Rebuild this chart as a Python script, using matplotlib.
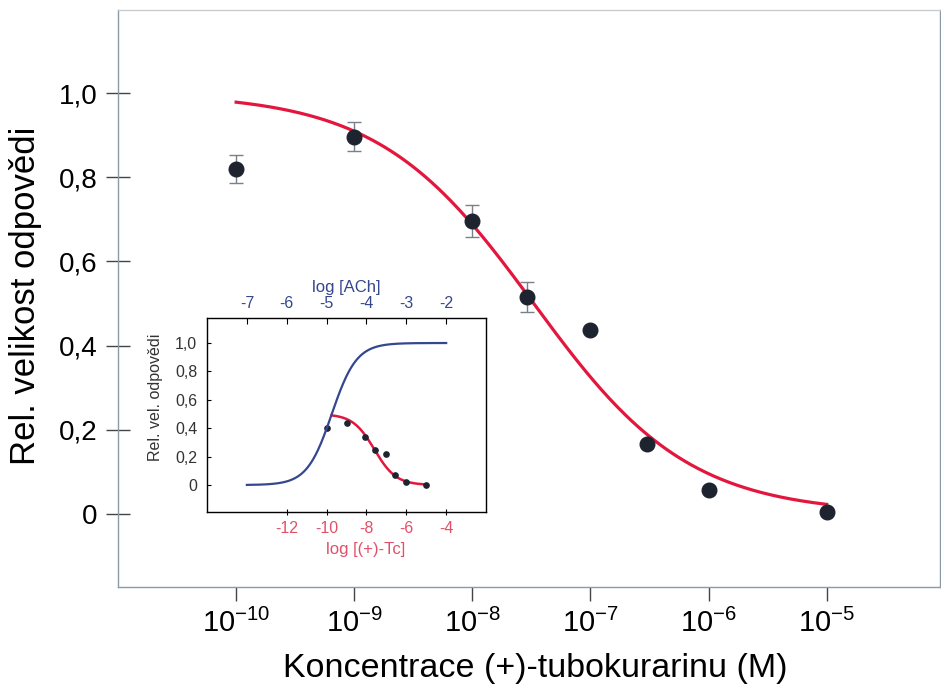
import matplotlib
matplotlib.use("Agg")
import matplotlib.pyplot as plt
import numpy as np

plt.rcParams["font.family"] = ["Liberation Sans", "DejaVu Sans"]
plt.rcParams["mathtext.default"] = "regular"

# ── hlavní graf: (+)-tubokurarin ──
conc = [1e-10, 1e-9, 1e-8, 2.9e-8, 1e-7, 3e-7, 1e-6, 1e-5]
resp = [0.82, 0.897, 0.697, 0.516, 0.437, 0.165, 0.057, 0.005]
err = [0.033, 0.035, 0.038, 0.036, 0, 0, 0, 0]
fit_top, fit_logic50, fit_n = 1.0, -7.48, 0.66      # Hillova křivka (fit)
fit_range = (-10, -5)

xticks = [1e-10, 1e-9, 1e-8, 1e-7, 1e-6, 1e-5]
xticklabels = [r"$10^{-10}$", r"$10^{-9}$", r"$10^{-8}$", r"$10^{-7}$", r"$10^{-6}$", r"$10^{-5}$"]
yticks = [0, 0.2, 0.4, 0.6, 0.8, 1.0]
yticklabels = ["0", "0,2", "0,4", "0,6", "0,8", "1,0"]

# ── vložený graf ──
tc_log = [-10, -9, -8.05, -7.55, -7.0, -6.55, -6.0, -5.0]
tc_resp = [0.40, 0.44, 0.34, 0.25, 0.22, 0.07, 0.02, 0.0]
ach_top, ach_logec50, ach_n = 1.0, -4.87, 1.4
ach_range = (-7, -2)
tc_top, tc_logic50, tc_n = 0.5, -7.6, 0.8
tc_range = (-9.75, -5)
ach_ticks = [-7, -6, -5, -4, -3, -2]
tc_ticks = [-12, -10, -8, -6, -4]
in_yticks = [0, 0.2, 0.4, 0.6, 0.8, 1.0]
in_yticklabels = ["0", "0,2", "0,4", "0,6", "0,8", "1,0"]

RED = "#e3173e"
BLUE = "#34478f"
PINK = "#e0506a"
DOT = "#1d2430"


def hill(logx, top, logmid, n):
    return top / (1 + 10 ** (n * (logx - logmid)))


fig = plt.figure(figsize=(9.41, 6.87), dpi=100)
ax = fig.add_axes([0.1254, 0.1455, 0.8736, 0.840])

lx = np.linspace(*fit_range, 300)
ax.plot(10 ** lx, hill(lx, fit_top, fit_logic50, fit_n), c=RED, lw=2.3, zorder=2)
c = np.array(conc); r = np.array(resp); e = np.array(err)
m = e > 0
ax.errorbar(c[m], r[m], yerr=e[m], fmt="none", ecolor="#7a7f88", elinewidth=1,
            capsize=5, capthick=1, zorder=1)
ax.plot(c, r, "o", ms=10.5, c=DOT, zorder=3)

ax.set_xscale("log")
ax.set_xlim(10 ** -11.0, 10 ** -4.04)
ax.set_ylim(-0.174, 1.198)
ax.set_xticks(xticks); ax.set_xticklabels(xticklabels, fontsize=21)
ax.minorticks_off()
ax.set_yticks(yticks); ax.set_yticklabels(yticklabels, fontsize=20)
ax.tick_params(axis="x", direction="out", length=10, width=1, color="#444", pad=6)
ax.tick_params(axis="y", direction="inout", length=17, width=1, color="#444", pad=6.5)
for s in ax.spines.values():
    s.set_color("#8a9aa6"); s.set_linewidth(1)
ax.spines["top"].set_color("#c8cccf")
ax.set_xlabel("Koncentrace (+)-tubokurarinu (M)", fontsize=24.5)
ax.set_ylabel("Rel. velikost odpovědi", fontsize=25)
ax.xaxis.set_label_coords(0.508, -0.115)
ax.yaxis.set_label_coords(-0.092, 0.504)

# inset
ins = fig.add_axes([0.220, 0.2547, 0.2965, 0.2824])
ins.set_xlim(-16, -2)
ins.set_ylim(-0.19, 1.176)
tx = np.linspace(*tc_range, 200)
ins.plot(tx, hill(tx, tc_top, tc_logic50, tc_n), c=RED, lw=1.8, zorder=2)
ins.plot(tc_log, tc_resp, "o", ms=3.8, c=DOT, zorder=3)
ins.set_xticks(tc_ticks)
ins.set_xticklabels([f"{t}" for t in tc_ticks], fontsize=11.5, color=PINK)
ins.set_yticks(in_yticks); ins.set_yticklabels(in_yticklabels, fontsize=11.5, color="#333")
ins.tick_params(axis="x", direction="inout", length=5, width=0.8, pad=4)
ins.tick_params(axis="y", direction="in", length=3, width=0.8, pad=7)
ins.set_xlabel("log [(+)-Tc]", fontsize=12, color=PINK)
ins.set_ylabel("Rel. vel. odpovědi", fontsize=11.5, color="#333")
ins.xaxis.set_label_coords(0.57, -0.155)
ins.yaxis.set_label_coords(-0.158, 0.59)
for s in ins.spines.values():
    s.set_color("#333"); s.set_linewidth(1)

top = ins.twiny()
top.set_xlim(-8, -1)
ax_ = np.linspace(*ach_range, 200)
top.plot(ax_, hill(ax_, ach_top, ach_logec50, -ach_n), c=BLUE, lw=1.6, zorder=1)
top.set_xticks(ach_ticks)
top.set_xticklabels([f"{t}" for t in ach_ticks], fontsize=11.5, color=BLUE)
top.tick_params(axis="x", direction="in", length=4, width=0.8, pad=5)
top.set_xlabel("log [ACh]", fontsize=12, color=BLUE)
top.xaxis.set_label_coords(0.50, 1.135)

fig.savefig("out.png", dpi=100)
